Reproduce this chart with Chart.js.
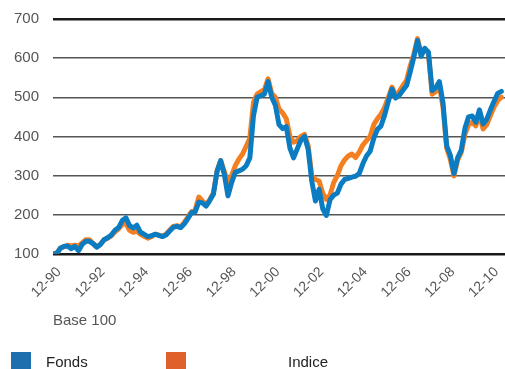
<!DOCTYPE html>
<html lang="fr">
<head>
    <meta charset="UTF-8">
    <title>Fonds vs Indice</title>
    <script src="https://cdn.jsdelivr.net/npm/chart.js"></script>
    <style>
        body { margin: 0; background: #fff; overflow: hidden; }
        #wrap { position: relative; width: 505px; height: 369px; font-family: "Liberation Sans", Arial, sans-serif; }
        #base { position: absolute; left: 53px; top: 311px; font-size: 15px; color: #555; }
        .leg { position: absolute; top: 352px; font-size: 15px; color: #222; line-height: 20px; }
        .box { position: absolute; top: 352px; width: 20px; height: 20px; }
    </style>
</head>
<body>
<div id="wrap">
    <canvas id="grafico" width="505" height="369"></canvas>
    <div id="base">Base 100</div>
    <div class="box" style="left:11px; background:#1d6fae;"></div>
    <div class="leg" style="left:46px;">Fonds</div>
    <div class="box" style="left:166px; background:#e0602b;"></div>
    <div class="leg" style="left:288px;">Indice</div>
</div>

<script>
    // base 100 au 12-90, un point tous les 2 mois
    const pasMois = 2
    const tickLabels = ['12-90','12-92','12-94','12-96','12-98','12-00','12-02','12-04','12-06','12-08','12-10']

    const fonds = [
        100,100,114,119,120,113,119,108,124,132,132,126,117,124,136,141,148,160,167,185,
        192,172,166,173,155,150,144,146,150,147,144,148,158,168,170,167,176,190,205,207,
        232,230,222,236,252,310,338,303,248,282,308,312,316,325,345,453,500,504,508,540,
        500,480,430,420,425,370,345,368,390,400,367,285,235,265,215,198,238,250,255,278,
        290,293,296,298,305,330,350,362,395,418,427,455,490,521,498,505,518,530,565,603,
        645,605,625,615,517,525,540,485,376,352,305,345,365,420,450,452,436,468,432,444,
        468,490,510,515
    ]
    const indice = [
        100,102,114,118,122,120,122,120,128,136,136,126,118,124,136,140,146,156,164,175,
        178,160,155,158,150,145,140,144,150,148,145,150,160,170,172,168,180,194,208,212,
        245,235,226,238,255,312,338,310,282,300,325,342,355,375,395,487,508,514,520,547,
        510,500,470,460,445,400,385,389,400,405,376,299,290,286,255,239,250,282,300,325,
        340,350,355,346,360,378,389,400,430,445,457,475,500,526,504,515,530,543,580,610,
        650,610,625,612,508,515,530,474,370,342,299,340,359,405,430,436,427,455,419,430,
        453,475,491,500
    ]

    const toPoints = arr => arr.map((v, i) => ({ x: i * pasMois, y: v }))

    const ctx = document.getElementById('grafico')

    new Chart(ctx, {
        type: 'line',
        data: {
            datasets: [
                {
                    label: 'Fonds',
                    data: toPoints(fonds),
                    borderColor: '#0b7cc1',
                    borderWidth: 5,
                    pointRadius: 0,
                    borderJoinStyle: 'round',
                    borderCapStyle: 'round'
                },
                {
                    label: 'Indice',
                    data: toPoints(indice),
                    borderColor: '#f47f20',
                    borderWidth: 5,
                    pointRadius: 0,
                    borderJoinStyle: 'round',
                    borderCapStyle: 'round'
                }
            ]
        },
        options: {
            responsive: false,
            animation: false,
            layout: { padding: { top: 19, right: 0, left: 0, bottom: 58 } },
            plugins: { legend: { display: false }, tooltip: { enabled: false } },
            scales: {
                x: {
                    type: 'linear',
                    min: 0,
                    max: 248,
                    grid: { display: false, drawTicks: false },
                    border: { display: false },
                    ticks: {
                        stepSize: 24,
                        includeBounds: false,
                        autoSkip: false,
                        minRotation: 45,
                        maxRotation: 45,
                        padding: 10,
                        labelOffset: 6,
                        color: '#555',
                        font: { family: 'Liberation Sans', size: 14 },
                        callback: v => tickLabels[v / 24]
                    },
                    afterFit: s => { s.paddingLeft = 0; s.paddingRight = 0 }
                },
                y: {
                    min: 100,
                    max: 700,
                    border: { display: false },
                    grid: {
                        drawTicks: false,
                        color: c => (c.tick.value === 100 || c.tick.value === 700) ? '#1a1a1a' : '#555',
                        lineWidth: c => (c.tick.value === 100 || c.tick.value === 700) ? 2.5 : 1.5
                    },
                    ticks: {
                        stepSize: 100,
                        padding: 14,
                        color: '#555',
                        font: { family: 'Liberation Sans', size: 15 }
                    },
                    afterFit: s => { s.width = 53; s.paddingTop = 0 }
                }
            }
        }
    })
</script>
</body>
</html>
